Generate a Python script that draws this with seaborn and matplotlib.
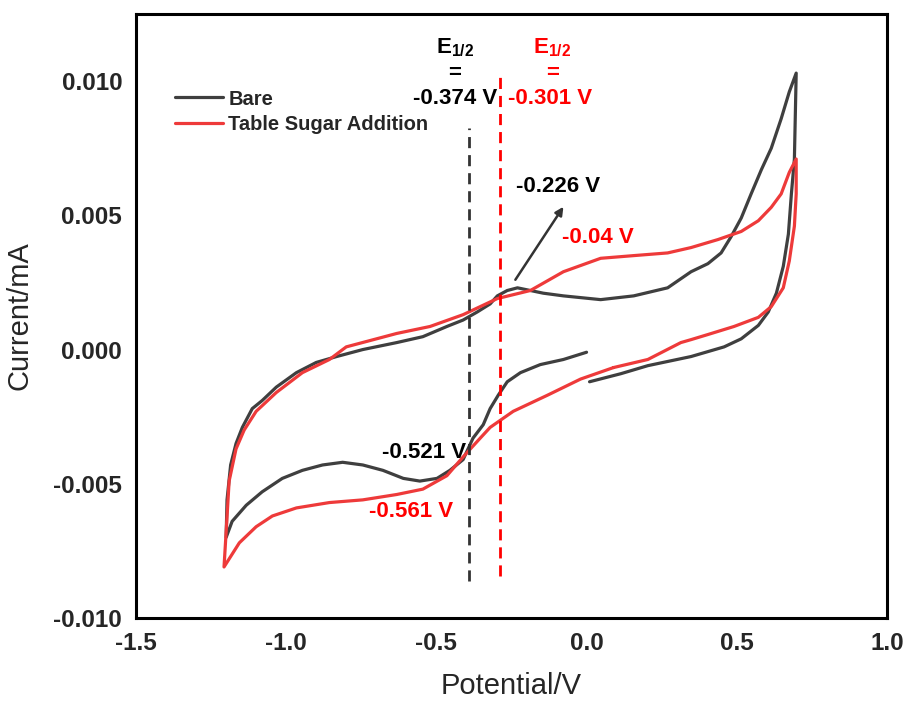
import numpy as np
import pandas as pd
import matplotlib
matplotlib.use("Agg")
import matplotlib.pyplot as plt
from matplotlib.ticker import MultipleLocator, FormatStrFormatter
import seaborn as sns

# CV curves (potential in V, current in mA)
bare_v = [0.0, -0.077, -0.154, -0.22, -0.264, -0.294, -0.321, -0.344, -0.378, -0.411,
          -0.455, -0.498, -0.555, -0.61, -0.678, -0.745, -0.812, -0.879, -0.946, -1.013,
          -1.08, -1.133, -1.18, -1.2,
          -1.197, -1.185, -1.167, -1.146, -1.113, -1.08, -1.033, -0.966, -0.9, -0.832,
          -0.745, -0.632, -0.545, -0.465, -0.411, -0.364, -0.321, -0.297, -0.264, -0.23,
          -0.187, -0.144, -0.077, 0.047, 0.157, 0.27, 0.348, 0.404, 0.448, 0.481,
          0.515, 0.548, 0.582, 0.615, 0.648, 0.675, 0.698,
          0.692, 0.682, 0.672, 0.655, 0.632, 0.605, 0.572, 0.515, 0.458, 0.348,
          0.204, 0.114, 0.01]
bare_i = [-0.0001, -0.00037, -0.00056, -0.00086, -0.0012, -0.0017, -0.0022, -0.0028, -0.0033, -0.0041,
          -0.0045, -0.0048, -0.0049, -0.0048, -0.0045, -0.0043, -0.0042, -0.0043, -0.0045, -0.0048,
          -0.0053, -0.0058, -0.0064, -0.0070,
          -0.0056, -0.0043, -0.0035, -0.0029, -0.0022, -0.0019, -0.0014, -0.00086, -0.00048, -0.00026,
          0.0, 0.00026, 0.00048, 0.00086, 0.0011, 0.0014, 0.0017, 0.0020, 0.0022, 0.0023,
          0.0022, 0.0021, 0.0020, 0.00186, 0.0020, 0.0023, 0.0029, 0.0032, 0.0036, 0.0042,
          0.0049, 0.0058, 0.0067, 0.0075, 0.0086, 0.0096, 0.0103,
          0.0071, 0.0058, 0.0043, 0.0031, 0.0021, 0.0014, 0.0009, 0.0004, 0.0001, -0.00026,
          -0.0006, -0.0009, -0.0012]

sugar_v = [0.09, -0.02, -0.13, -0.244, -0.321, -0.354, -0.411, -0.465, -0.545, -0.632,
           -0.745, -0.856, -0.966, -1.046, -1.1, -1.156, -1.207,
           -1.2, -1.19, -1.167, -1.14, -1.1, -1.033, -0.946, -0.856, -0.8, -0.632,
           -0.521, -0.411, -0.297, -0.187, -0.077, 0.047, 0.157, 0.27, 0.348, 0.438,
           0.515, 0.572, 0.615, 0.648, 0.675, 0.698,
           0.698, 0.692, 0.675, 0.655, 0.615, 0.572, 0.491, 0.404, 0.348, 0.314, 0.204, 0.09]
sugar_i = [-0.00067, -0.0011, -0.0017, -0.0023, -0.0029, -0.0033, -0.0040, -0.0047, -0.0052, -0.0054,
           -0.0056, -0.0057, -0.0059, -0.0062, -0.0066, -0.0072, -0.0081,
           -0.0068, -0.0049, -0.0037, -0.0030, -0.0023, -0.0016, -0.00086, -0.00037, 0.0001, 0.0006,
           0.00086, 0.0013, 0.0019, 0.0022, 0.0029, 0.0034, 0.0035, 0.0036, 0.0038, 0.0041,
           0.0044, 0.0048, 0.0053, 0.0058, 0.0066, 0.0071,
           0.0058, 0.0046, 0.0033, 0.0023, 0.0016, 0.0012, 0.00086, 0.00056, 0.00037, 0.00026, -0.00037, -0.00067]

e_half_bare = -0.391
e_half_sugar = -0.287

sns.set_style("white")
plt.rcParams['font.family'] = ['Liberation Sans', 'DejaVu Sans']
plt.rcParams['axes.unicode_minus'] = False
plt.rcParams['mathtext.fontset'] = 'custom'
plt.rcParams['mathtext.rm'] = 'Liberation Sans'
plt.rcParams['mathtext.bf'] = 'Liberation Sans:bold'

gray = '#3f3f3f'
red = '#ee3a3a'

fig = plt.figure(figsize=(9.05, 7.02), dpi=100)
ax = fig.add_axes([0.1503, 0.1197, 0.8297, 0.8603])

df_bare = pd.DataFrame({"Potential": bare_v, "Current": bare_i})
df_sugar = pd.DataFrame({"Potential": sugar_v, "Current": sugar_i})
sns.lineplot(data=df_bare, x="Potential", y="Current", sort=False, estimator=None,
             color=gray, lw=2.3, label="Bare", ax=ax)
sns.lineplot(data=df_sugar, x="Potential", y="Current", sort=False, estimator=None,
             color=red, lw=2.3, label="Table Sugar Addition", ax=ax)

# half-wave potential markers
ax.plot([e_half_bare, e_half_bare], [-0.00862, 0.00825], color='#333333', lw=2,
        dashes=(4, 2.5))
ax.plot([e_half_sugar, e_half_sugar], [-0.00844, 0.01033], color='#ff0000', lw=2,
        dashes=(4, 2.5))

tfont = dict(fontsize=16, fontweight='bold', ha='center', va='center')
ax.text(-0.438, 0.01126, r'$\mathbf{E_{1/2}}$', color='black', **tfont)
ax.text(-0.438, 0.0103, '=', color='black', **tfont)
ax.text(-0.438, 0.00937, '-0.374 V', color='black', **tfont)
ax.text(-0.114, 0.01126, r'$\mathbf{E_{1/2}}$', color='#ff0000', **tfont)
ax.text(-0.114, 0.0103, '=', color='#ff0000', **tfont)
ax.text(-0.122, 0.00937, '-0.301 V', color='#ff0000', **tfont)
ax.text(-0.094, 0.00606, '-0.226 V', color='black', **tfont)
ax.text(0.037, 0.00416, '-0.04 V', color='#ff0000', **tfont)
ax.text(-0.541, -0.00383, '-0.521 V', color='black', **tfont)
ax.text(-0.585, -0.00602, '-0.561 V', color='#ff0000', **tfont)
ax.annotate('', xy=(-0.077, 0.00532), xytext=(-0.237, 0.0026),
            arrowprops=dict(arrowstyle='-|>', color='#333333', lw=1.8,
                            mutation_scale=12, shrinkA=0, shrinkB=0))

ax.set_xlim(-1.5, 1.0)
ax.set_ylim(-0.010, 0.0125)
ax.xaxis.set_major_locator(MultipleLocator(0.5))
ax.xaxis.set_minor_locator(MultipleLocator(0.25))
ax.yaxis.set_major_locator(MultipleLocator(0.005))
ax.yaxis.set_minor_locator(MultipleLocator(0.0025))
ax.xaxis.set_major_formatter(FormatStrFormatter('%.1f'))
ax.yaxis.set_major_formatter(FormatStrFormatter('%.3f'))
ax.tick_params(which='both', direction='in', top=False, right=False, width=2.2,
               labelsize=17.5, pad=10)
ax.tick_params(which='major', length=7)
ax.tick_params(which='minor', length=4)
for lab in ax.get_xticklabels() + ax.get_yticklabels():
    lab.set_fontweight('bold')
for sp in ax.spines.values():
    sp.set_linewidth(2.2)
    sp.set_color('black')

ax.set_xlabel("Potential/V", fontsize=21, labelpad=12)
ax.set_ylabel("Current/mA", fontsize=21, labelpad=14)

ax.legend(loc='upper left', bbox_to_anchor=(0.052, 0.875), frameon=False,
          prop={'weight': 'bold', 'size': 14.5}, handlelength=2.4,
          handletextpad=0.25, labelspacing=0.3, borderpad=0, borderaxespad=0)

fig.savefig("out.png", dpi=100)
